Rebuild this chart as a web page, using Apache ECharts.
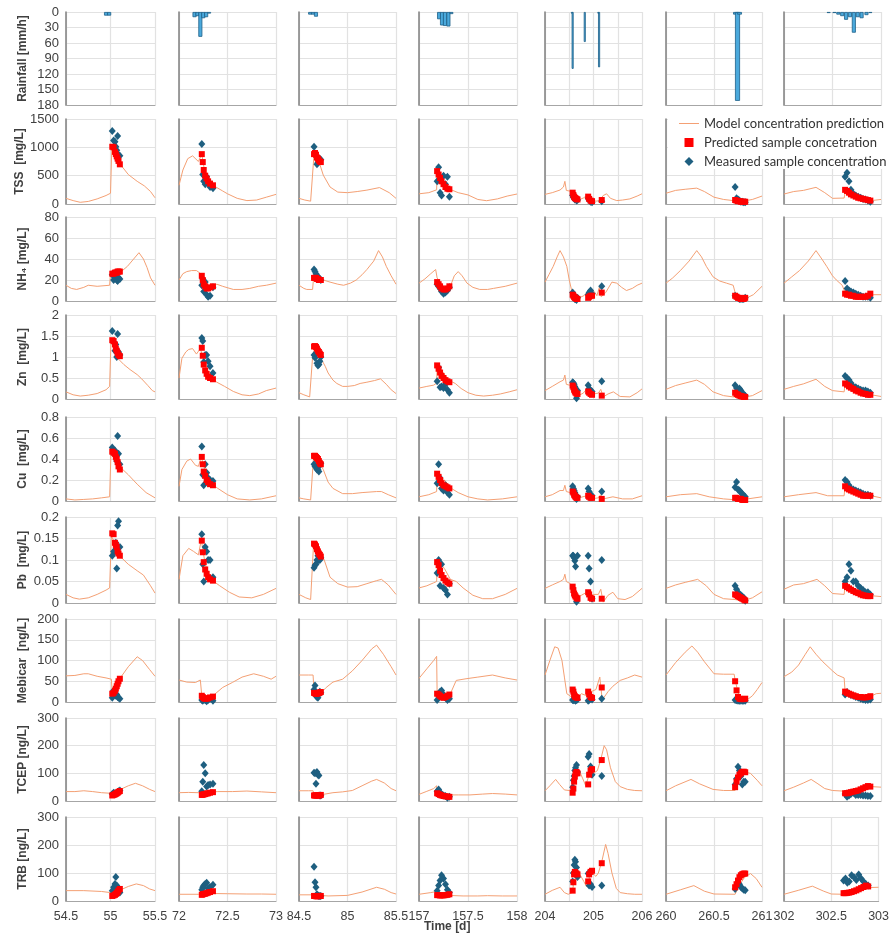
<!DOCTYPE html>
<html><head><meta charset="utf-8">
<script src="https://cdn.jsdelivr.net/npm/echarts@6/dist/echarts.min.js"></script>
<style>html,body{margin:0;padding:0;background:#fff}#c{width:892px;height:938px}</style>
</head><body><div id="c"></div>
<script>
// ---------- axes / categories ----------
const xMin = [54.5, 72, 84.5, 157, 204, 260, 302];
const xMax = [55.5, 73, 85.5, 158, 206, 261, 303];
const rowLabels = ['Rainfall [mm/h]','TSS  [mg/L]','NH\u2084 [mg/L]','Zn  [mg/L]','Cu  [mg/L]','Pb  [mg/L]','Mebicar  [ng/L]','TCEP [ng/L]','TRB [ng/L]'];
const yMax = [180, 1500, 80, 2, 0.8, 0.2, 200, 300, 300];
const yStep = [30, 500, 20, 0.5, 0.2, 0.05, 50, 100, 100];
const seriesNames = ['Model concentration prediction','Predicted sample concetration','Measured sample concentration'];

// ---------- rainfall [t, mm/h] ----------
const rain = [
  [[54.95,7],[54.985,7]],
  [[72.16,10],[72.19,8],[72.22,48],[72.25,12],[72.28,10],[72.31,3]],
  [[84.615,5],[84.645,5],[84.675,9]],
  [[157.205,14],[157.235,26],[157.265,27],[157.3,28],[157.33,4]],
  [[204.555,3],[204.57,110],[204.82,58],[205.1,3],[205.115,107]],
  [[260.725,5],[260.745,172],[260.765,5]],
  [[302.46,2],[302.52,2],[302.56,5],[302.6,8],[302.64,15],[302.68,10],[302.72,40],[302.76,10],[302.8,12],[302.85,6],[302.89,2]]
];

// ---------- sample times per column ----------
const sampleT = [
  [55.02,55.035,55.05,55.06,55.07,55.08,55.09,55.105],
  [72.235,72.245,72.255,72.27,72.285,72.3,72.32,72.35],
  [84.655,84.665,84.675,84.685,84.695,84.705,84.715,84.725],
  [157.185,157.2,157.215,157.23,157.25,157.27,157.29,157.31],
  [204.57,204.585,204.6,204.615,204.63,204.65,204.67,204.89,204.91,204.94,204.97,205.17],
  [260.72,260.735,260.75,260.765,260.78,260.795,260.81,260.825],
  [302.63,302.65,302.67,302.69,302.715,302.74,302.765,302.79,302.815,302.84,302.865,302.89]
];

// ---------- TSS ----------
const tssModel = [
  [[54.5,100],[54.58,60],[54.66,30],[54.75,45],[54.85,90],[54.95,150],[55.0,190],[55.015,1000],[55.04,980],[55.1,720],[55.2,520],[55.3,400],[55.38,320],[55.45,220],[55.5,110]],
  [[72,330],[72.04,600],[72.09,800],[72.14,850],[72.2,750],[72.235,880],[72.27,520],[72.32,360],[72.38,300],[72.45,230],[72.5,180],[72.6,100],[72.7,60],[72.8,70],[72.9,120],[73,170]],
  [[84.5,100],[84.56,70],[84.62,50],[84.655,880],[84.7,780],[84.75,510],[84.82,300],[84.9,210],[85.0,200],[85.1,220],[85.2,245],[85.33,290],[85.43,200],[85.5,100]],
  [[157,180],[157.1,200],[157.18,250],[157.185,580],[157.23,400],[157.3,270],[157.4,200],[157.5,160],[157.6,80],[157.69,58],[157.8,90],[157.9,140],[158,176]],
  [[204,170],[204.15,200],[204.31,247],[204.38,300],[204.41,400],[204.44,240],[204.55,220],[204.65,150],[204.72,80],[204.8,110],[204.86,150],[204.95,80],[205.05,50],[205.13,60],[205.2,150],[205.27,180],[205.35,100],[205.48,60],[205.6,70],[205.75,90],[205.9,140],[206,180]],
  [[260,190],[260.1,240],[260.2,260],[260.32,280],[260.4,220],[260.5,120],[260.6,80],[260.7,60],[260.8,50],[260.9,80],[261,140]],
  [[302,176],[302.1,220],[302.2,240],[302.33,294],[302.42,200],[302.5,100],[302.62,105],[302.635,250],[302.7,170],[302.8,100],[302.9,60],[303,80]]
];
const tssPred = [
  [1010,1000,920,880,840,800,760,700],
  [880,740,600,500,450,400,360,330],
  [880,900,870,820,800,770,750,740],
  [580,520,460,400,350,300,270,260],
  [200,160,130,110,100,90,80,130,90,60,50,70],
  [70,60,50,50,40,40,40,40],
  [250,230,200,170,150,130,110,100,90,80,70,60]
];
const tssMeas = [
  [1290,1120,1100,1010,950,1200,870,850],
  [1060,520,400,350,480,400,300,280],
  [1010,890,850,700,730,760,800,780],
  [400,650,200,150,500,350,480,130],
  [150,120,100,80,120,60,70,100,70,40,30,50],
  [300,100,80,60,40,40,30,30],
  [480,550,400,250,180,150,130,110,90,80,60,40]
];

// ---------- NH4 ----------
const nh4Model = [
  [[54.5,15],[54.56,12],[54.62,11],[54.7,13],[54.75,15],[54.85,14],[54.99,15],[55.0,26],[55.06,27],[55.12,28],[55.19,33],[55.26,40],[55.32,46],[55.37,40],[55.41,32],[55.45,22],[55.5,15]],
  [[72,20],[72.04,26],[72.08,28],[72.13,29],[72.18,29],[72.21,27],[72.235,25],[72.26,18],[72.29,12],[72.33,13],[72.39,16],[72.45,14],[72.56,11],[72.65,11],[72.73,12],[72.82,14],[72.9,15],[73,17]],
  [[84.5,15],[84.55,12],[84.58,11],[84.64,11],[84.65,22],[84.7,21],[84.75,20],[84.82,18],[84.9,16],[84.96,15],[85.03,17],[85.09,20],[85.15,25],[85.2,30],[85.27,38],[85.32,48],[85.36,42],[85.4,33],[85.45,24],[85.5,16]],
  [[157,17],[157.06,21],[157.12,26],[157.17,30],[157.185,22],[157.22,17],[157.26,12],[157.29,11],[157.32,14],[157.36,24],[157.4,28],[157.44,24],[157.49,17],[157.55,13],[157.62,11],[157.7,11],[157.76,12],[157.88,14],[158,17]],
  [[204,18],[204.08,25],[204.17,33],[204.25,42],[204.31,48],[204.38,42],[204.45,33],[204.5,20],[204.55,10],[204.6,5],[204.7,3],[204.8,5],[204.86,8],[204.96,12],[205.03,8],[205.07,5],[205.12,13],[205.16,4],[205.25,8],[205.38,18],[205.48,17],[205.58,13],[205.68,10],[205.8,12],[205.9,15],[206,17]],
  [[260,17],[260.07,22],[260.15,29],[260.24,38],[260.32,48],[260.37,42],[260.42,33],[260.49,23],[260.56,19],[260.63,17],[260.7,15],[260.72,8],[260.76,3],[260.82,2],[260.91,6],[261,14]],
  [[302,17],[302.08,23],[302.16,29],[302.25,38],[302.33,48],[302.39,40],[302.44,33],[302.5,24],[302.54,20],[302.6,15],[302.63,8],[302.7,6],[302.78,4],[302.86,4],[302.92,6],[303,6]]
];
const nh4Pred = [
  [26,26,27,27,27,28,28,28],
  [24,20,16,14,12,12,13,14],
  [22,22,22,21,21,20,20,20],
  [18,16,14,12,11,11,12,14],
  [6,5,4,3,3,2,2,3,4,5,5,8],
  [5,4,3,3,2,2,2,3],
  [7,6,6,5,5,4,4,4,4,4,5,7]
];
const nh4Meas = [
  [25,20,22,24,20,19,22,21],
  [15,21,9,18,6,4,5,13],
  [30,28,26,24,23,22,21,20],
  [16,14,12,9,7,8,10,13],
  [8,6,4,2,2,1,3,6,8,10,7,14],
  [5,4,3,2,2,2,2,3],
  [19,12,10,9,8,7,6,5,4,4,4,3]
];

// ---------- Zn ----------
const znModel = [
  [[54.5,0.17],[54.58,0.1],[54.66,0.07],[54.75,0.09],[54.85,0.13],[54.95,0.22],[54.99,0.3],[55.005,1.35],[55.04,1.2],[55.09,0.95],[55.15,0.82],[55.22,0.7],[55.3,0.58],[55.35,0.48],[55.42,0.32],[55.47,0.2],[55.5,0.17]],
  [[72,0.5],[72.03,0.97],[72.07,1.12],[72.1,1.18],[72.14,1.2],[72.18,1.07],[72.22,1.2],[72.26,0.9],[72.3,0.55],[72.39,0.4],[72.47,0.3],[72.56,0.18],[72.65,0.1],[72.73,0.08],[72.82,0.12],[72.9,0.2],[73,0.26]],
  [[84.5,0.15],[84.55,0.1],[84.61,0.05],[84.64,1.0],[84.66,1.2],[84.7,1.1],[84.73,0.95],[84.77,0.78],[84.8,0.62],[84.85,0.45],[84.89,0.37],[84.95,0.3],[85.0,0.3],[85.07,0.32],[85.13,0.37],[85.2,0.4],[85.28,0.44],[85.34,0.48],[85.4,0.35],[85.45,0.22],[85.5,0.13]],
  [[157,0.26],[157.08,0.3],[157.15,0.33],[157.18,0.38],[157.185,0.8],[157.25,0.62],[157.3,0.45],[157.37,0.37],[157.43,0.25],[157.5,0.15],[157.58,0.09],[157.66,0.07],[157.75,0.09],[157.83,0.12],[157.92,0.17],[158,0.22]],
  [[204,0.2],[204.15,0.3],[204.31,0.41],[204.38,0.45],[204.41,0.57],[204.44,0.35],[204.5,0.33],[204.57,0.3],[204.63,0.18],[204.72,0.1],[204.79,0.14],[204.86,0.24],[204.93,0.1],[205.0,0.12],[205.1,0.14],[205.15,0.23],[205.2,0.05],[205.3,0.12],[205.41,0.17],[205.55,0.06],[205.75,0.05],[205.9,0.15],[206,0.24]],
  [[260,0.23],[260.1,0.32],[260.2,0.38],[260.32,0.45],[260.4,0.35],[260.49,0.17],[260.6,0.08],[260.7,0.05],[260.8,0.04],[260.9,0.08],[261,0.2]],
  [[302,0.23],[302.1,0.3],[302.2,0.36],[302.33,0.47],[302.42,0.3],[302.5,0.2],[302.62,0.17],[302.63,0.37],[302.7,0.3],[302.8,0.2],[302.9,0.1],[303,0.06]]
];
const znPred = [
  [1.4,1.38,1.3,1.2,1.15,1.1,1.05,1.02],
  [1.22,1.03,0.82,0.68,0.6,0.53,0.5,0.47],
  [1.25,1.26,1.24,1.2,1.15,1.12,1.08,1.05],
  [0.8,0.72,0.63,0.55,0.5,0.45,0.42,0.4],
  [0.32,0.28,0.22,0.18,0.15,0.13,0.12,0.18,0.15,0.12,0.1,0.08],
  [0.15,0.12,0.1,0.08,0.07,0.06,0.05,0.05],
  [0.37,0.34,0.3,0.27,0.24,0.2,0.18,0.15,0.13,0.12,0.1,0.1]
];
const znMeas = [
  [1.62,1.35,1.15,1.3,1.0,1.55,1.12,1.05],
  [1.45,1.38,0.88,1.05,1.05,0.9,0.78,0.62],
  [1.05,0.98,1.08,0.85,0.8,0.82,0.9,1.0],
  [0.42,0.75,0.28,0.3,0.26,0.35,0.22,0.15],
  [0.4,0.38,0.35,0.3,0.25,0.02,0.2,0.33,0.25,0.2,0.18,0.42],
  [0.33,0.26,0.22,0.25,0.2,0.15,0.1,0.08],
  [0.55,0.5,0.45,0.38,0.3,0.28,0.25,0.22,0.2,0.2,0.18,0.15]
];

// ---------- Cu ----------
const cuModel = [
  [[54.5,0.02],[54.6,0.01],[54.7,0.015],[54.8,0.02],[54.9,0.03],[54.99,0.04],[55.005,0.45],[55.05,0.42],[55.1,0.33],[55.2,0.25],[55.3,0.16],[55.4,0.08],[55.5,0.03]],
  [[72,0.14],[72.03,0.3],[72.08,0.38],[72.12,0.4],[72.17,0.34],[72.2,0.33],[72.23,0.42],[72.27,0.28],[72.33,0.17],[72.4,0.12],[72.5,0.06],[72.6,0.02],[72.73,0.01],[72.85,0.02],[73,0.05]],
  [[84.5,0.03],[84.55,0.02],[84.62,0.01],[84.65,0.42],[84.7,0.38],[84.75,0.3],[84.8,0.18],[84.85,0.12],[84.95,0.07],[85.05,0.07],[85.15,0.08],[85.3,0.09],[85.35,0.09],[85.42,0.06],[85.5,0.03]],
  [[157,0.04],[157.1,0.06],[157.18,0.09],[157.185,0.26],[157.26,0.2],[157.33,0.12],[157.4,0.08],[157.5,0.04],[157.6,0.02],[157.7,0.01],[157.85,0.02],[158,0.04]],
  [[204,0.04],[204.15,0.06],[204.31,0.1],[204.38,0.1],[204.41,0.15],[204.44,0.09],[204.52,0.08],[204.6,0.05],[204.7,0.03],[204.86,0.05],[204.95,0.02],[205.1,0.03],[205.15,0.06],[205.2,0.02],[205.4,0.04],[205.6,0.02],[205.8,0.02],[206,0.05]],
  [[260,0.04],[260.15,0.06],[260.32,0.07],[260.45,0.04],[260.6,0.02],[260.75,0.01],[260.85,0.02],[261,0.04]],
  [[302,0.04],[302.15,0.06],[302.33,0.08],[302.45,0.05],[302.62,0.05],[302.63,0.15],[302.7,0.12],[302.8,0.08],[302.9,0.05],[303,0.03]]
];
const cuPred = [
  [0.47,0.46,0.45,0.42,0.4,0.37,0.33,0.3],
  [0.42,0.35,0.28,0.24,0.2,0.18,0.16,0.15],
  [0.43,0.43,0.42,0.41,0.4,0.38,0.36,0.35],
  [0.26,0.23,0.2,0.17,0.15,0.14,0.13,0.12],
  [0.09,0.08,0.06,0.05,0.04,0.03,0.03,0.05,0.04,0.03,0.03,0.02],
  [0.03,0.03,0.02,0.02,0.02,0.01,0.01,0.01],
  [0.14,0.12,0.11,0.1,0.09,0.08,0.07,0.06,0.05,0.05,0.05,0.05]
];
const cuMeas = [
  [0.51,0.45,0.48,0.44,0.38,0.62,0.45,0.35],
  [0.52,0.25,0.15,0.35,0.27,0.22,0.2,0.19],
  [0.35,0.33,0.32,0.3,0.3,0.28,0.34,0.36],
  [0.17,0.35,0.22,0.12,0.1,0.15,0.08,0.06],
  [0.14,0.12,0.1,0.08,0.05,0.02,0.04,0.12,0.09,0.06,0.05,0.09],
  [0.13,0.18,0.11,0.1,0.08,0.07,0.05,0.04],
  [0.2,0.18,0.15,0.12,0.11,0.1,0.09,0.08,0.07,0.06,0.06,0.05]
];

// ---------- Pb ----------
const pbModel = [
  [[54.5,0.02],[54.58,0.012],[54.65,0.009],[54.75,0.012],[54.85,0.02],[54.95,0.03],[54.99,0.035],[55.01,0.155],[55.05,0.14],[55.1,0.11],[55.2,0.09],[55.3,0.075],[55.37,0.065],[55.45,0.04],[55.5,0.023]],
  [[72,0.055],[72.04,0.11],[72.1,0.127],[72.15,0.12],[72.2,0.112],[72.23,0.147],[72.27,0.09],[72.33,0.055],[72.42,0.04],[72.52,0.025],[72.62,0.014],[72.75,0.012],[72.87,0.02],[73,0.034]],
  [[84.5,0.02],[84.57,0.012],[84.62,0.008],[84.65,0.137],[84.7,0.13],[84.76,0.1],[84.82,0.06],[84.9,0.045],[85.0,0.037],[85.1,0.038],[85.2,0.045],[85.3,0.052],[85.35,0.055],[85.42,0.042],[85.5,0.02]],
  [[157,0.035],[157.08,0.04],[157.15,0.047],[157.18,0.05],[157.19,0.1],[157.26,0.08],[157.32,0.055],[157.38,0.05],[157.45,0.035],[157.55,0.018],[157.65,0.01],[157.75,0.01],[157.88,0.02],[158,0.034]],
  [[204,0.034],[204.15,0.042],[204.31,0.05],[204.38,0.055],[204.41,0.067],[204.44,0.05],[204.52,0.045],[204.58,0.035],[204.65,0.015],[204.75,0.018],[204.86,0.025],[204.92,0.015],[205.0,0.02],[205.1,0.02],[205.15,0.032],[205.2,0.002],[205.3,0.018],[205.4,0.025],[205.5,0.01],[205.65,0.008],[205.8,0.015],[206,0.034]],
  [[260,0.034],[260.1,0.042],[260.2,0.048],[260.33,0.055],[260.42,0.04],[260.5,0.02],[260.6,0.01],[260.72,0.008],[260.8,0.005],[260.9,0.012],[261,0.026]],
  [[302,0.032],[302.1,0.042],[302.2,0.045],[302.34,0.055],[302.42,0.04],[302.5,0.022],[302.62,0.02],[302.63,0.04],[302.7,0.033],[302.8,0.022],[302.9,0.017],[303,0.015]]
];
const pbPred = [
  [0.162,0.16,0.14,0.135,0.13,0.12,0.115,0.11],
  [0.145,0.118,0.095,0.078,0.068,0.06,0.055,0.052],
  [0.138,0.136,0.132,0.125,0.12,0.115,0.112,0.108],
  [0.095,0.088,0.075,0.065,0.058,0.052,0.048,0.045],
  [0.038,0.03,0.022,0.018,0.015,0.012,0.01,0.025,0.02,0.012,0.01,0.01],
  [0.02,0.018,0.016,0.014,0.012,0.01,0.008,0.006],
  [0.04,0.037,0.034,0.031,0.028,0.025,0.023,0.02,0.018,0.017,0.016,0.016]
];
const pbMeas = [
  [0.11,0.12,0.12,0.14,0.08,0.18,0.19,0.13],
  [0.16,0.09,0.05,0.13,0.12,0.1,0.1,0.06],
  [0.082,0.088,0.09,0.1,0.11,0.1,0.1,0.105],
  [0.07,0.1,0.04,0.09,0.035,0.03,0.02,0.045],
  [0.11,0.11,0.105,0.098,0.085,0.003,0.11,0.11,0.08,0.05,0.01,0.1],
  [0.04,0.032,0.025,0.02,0.018,0.015,0.012,0.005],
  [0.05,0.06,0.09,0.075,0.05,0.05,0.04,0.035,0.03,0.025,0.025,0.02]
];

// ---------- Mebicar ----------
const mebModel = [
  [[54.5,63],[54.6,64],[54.7,68],[54.75,68],[54.85,62],[54.95,58],[55.01,55],[55.02,20],[55.03,22],[55.1,55],[55.2,85],[55.3,109],[55.36,100],[55.44,78],[55.5,62]],
  [[72,53],[72.08,48],[72.17,47],[72.22,53],[72.235,15],[72.3,8],[72.35,15],[72.45,35],[72.55,47],[72.65,60],[72.77,68],[72.87,62],[72.95,55],[73,62]],
  [[84.5,65],[84.6,65],[84.645,65],[84.655,25],[84.72,20],[84.78,35],[84.85,48],[84.95,55],[85.05,75],[85.15,100],[85.25,128],[85.3,137],[85.37,115],[85.45,85],[85.5,65]],
  [[157,57],[157.08,80],[157.15,100],[157.18,110],[157.185,20],[157.26,10],[157.32,20],[157.38,52],[157.48,56],[157.6,60],[157.75,65],[157.88,58],[158,53]],
  [[204,65],[204.1,100],[204.2,133],[204.27,130],[204.35,100],[204.4,60],[204.45,20],[204.55,12],[204.65,8],[204.75,20],[204.86,15],[204.95,25],[205.05,30],[205.13,60],[205.18,5],[205.3,25],[205.4,38],[205.55,52],[205.7,58],[205.85,65],[206,60]],
  [[260,65],[260.1,95],[260.2,120],[260.27,135],[260.33,120],[260.4,97],[260.5,68],[260.6,67],[260.71,67],[260.72,52],[260.76,15],[260.8,8],[260.85,6],[260.9,15],[260.95,30],[261,47]],
  [[302,61],[302.08,72],[302.15,89],[302.22,115],[302.27,133],[302.33,115],[302.4,97],[302.5,75],[302.55,65],[302.62,58],[302.63,25],[302.72,18],[302.8,12],[302.88,12],[302.95,20],[303,21]]
];
const mebPred = [
  [20,22,27,32,38,44,50,56],
  [15,12,9,8,8,9,11,13],
  [22,21,20,20,21,22,23,24],
  [20,18,15,12,10,12,15,18],
  [30,25,18,14,12,11,10,25,18,12,10,35],
  [50,28,12,8,7,7,7,8],
  [25,22,20,18,16,14,12,12,11,11,12,14]
];
const mebMeas = [
  [10,28,20,15,18,12,10,8],
  [5,3,6,4,2,5,8,3],
  [30,40,15,12,10,20,25,22],
  [5,20,25,28,18,10,5,8],
  [5,4,8,5,3,5,6,3,5,8,6,8],
  [5,4,3,3,3,3,3,3],
  [18,24,20,17,15,12,10,8,6,5,5,6]
];

// ---------- TCEP ----------
const tcepModel = [
  [[54.5,34],[54.6,34],[54.7,37],[54.8,34],[54.9,30],[55.0,28],[55.03,24],[55.1,40],[55.2,55],[55.28,64],[55.36,55],[55.44,42],[55.5,34]],
  [[72,30],[72.1,31],[72.2,30],[72.3,32],[72.4,34],[72.55,34],[72.7,36],[72.85,33],[73,30]],
  [[84.5,37],[84.6,37],[84.645,37],[84.655,22],[84.75,24],[84.85,30],[84.95,33],[85.05,38],[85.15,55],[85.25,72],[85.3,78],[85.38,65],[85.45,45],[85.5,37]],
  [[157,24],[157.08,35],[157.15,45],[157.18,55],[157.185,35],[157.26,28],[157.32,22],[157.4,22],[157.52,22],[157.65,25],[157.75,27],[157.88,25],[158,22]],
  [[204,37],[204.1,55],[204.22,78],[204.3,60],[204.4,40],[204.5,38],[204.56,30],[204.6,60],[204.65,105],[204.7,112],[204.78,80],[204.84,55],[204.9,90],[204.95,120],[205.0,100],[205.08,110],[205.15,150],[205.22,200],[205.27,185],[205.35,120],[205.45,70],[205.55,52],[205.7,42],[205.85,38],[206,37]],
  [[260,37],[260.1,55],[260.26,78],[260.35,62],[260.49,42],[260.6,38],[260.72,38],[260.74,60],[260.78,95],[260.82,105],[260.88,100],[260.95,75],[261,55]],
  [[302,37],[302.1,50],[302.2,65],[302.28,78],[302.35,62],[302.42,45],[302.5,38],[302.6,36],[302.7,38],[302.8,42],[302.9,52],[303,50]]
];
const tcepPred = [
  [20,22,24,26,28,30,33,36],
  [22,23,24,25,27,28,30,32],
  [20,20,20,20,20,20,21,22],
  [28,25,22,20,18,17,16,15],
  [30,45,70,88,100,105,100,60,95,110,115,148],
  [50,70,85,95,100,105,106,104],
  [28,28,30,32,34,36,38,42,46,50,54,52]
];
const tcepMeas = [
  [25,30,28,26,30,32,35,38],
  [35,70,130,100,52,58,60,62],
  [102,100,62,105,95,92,20,20],
  [35,42,30,25,20,18,12,15],
  [50,75,90,110,120,130,105,160,170,125,95,90],
  [60,80,124,110,90,60,70,70],
  [25,15,20,25,30,22,22,22,20,20,18,18]
];

// ---------- TRB ----------
const trbModel = [
  [[54.5,37],[54.7,37],[54.9,34],[55.0,30],[55.03,25],[55.1,38],[55.2,52],[55.29,61],[55.37,55],[55.44,43],[55.5,37]],
  [[72,24],[72.2,24],[72.3,27],[72.5,26],[72.7,25],[72.85,25],[73,24]],
  [[84.5,22],[84.64,22],[84.66,18],[84.8,18],[85.0,20],[85.15,32],[85.3,49],[85.38,42],[85.45,30],[85.5,25]],
  [[157,24],[157.12,30],[157.18,34],[157.19,22],[157.3,20],[157.45,18],[157.6,18],[157.7,19],[157.85,18],[158,18]],
  [[204,24],[204.15,38],[204.31,49],[204.4,30],[204.48,24],[204.56,30],[204.6,70],[204.66,100],[204.72,95],[204.8,70],[204.86,50],[204.92,85],[204.98,100],[205.05,88],[205.1,100],[205.17,140],[205.25,202],[205.3,170],[205.38,100],[205.47,45],[205.55,30],[205.7,26],[205.85,24],[206,24]],
  [[260,24],[260.15,40],[260.29,55],[260.4,35],[260.5,25],[260.72,24],[260.76,55],[260.82,85],[260.88,98],[260.94,80],[261,49]],
  [[302,24],[302.15,38],[302.3,53],[302.42,35],[302.5,25],[302.63,24],[302.7,28],[302.8,38],[302.9,48],[303,49]]
];
const trbPred = [
  [18,20,22,25,28,32,38,43],
  [22,24,25,26,28,30,32,35],
  [18,18,17,17,17,18,18,18],
  [21,21,20,20,20,21,22,24],
  [37,67,95,104,100,98,95,70,95,104,108,135],
  [49,60,73,85,92,96,98,98],
  [28,28,29,30,32,35,38,42,46,50,55,52]
];
const trbMeas = [
  [37,49,61,86,55,45,40,30],
  [40,49,55,61,65,45,50,58],
  [122,67,49,24,20,18,18,18],
  [37,55,73,92,80,60,40,30],
  [70,100,129,147,140,120,86,98,55,60,50,55],
  [43,55,65,60,50,45,40,38],
  [73,80,65,70,92,85,75,95,80,70,61,55]
];

const concRows = [
  [tssModel, tssPred, tssMeas],
  [nh4Model, nh4Pred, nh4Meas],
  [znModel, znPred, znMeas],
  [cuModel, cuPred, cuMeas],
  [pbModel, pbPred, pbMeas],
  [mebModel, mebPred, mebMeas],
  [tcepModel, tcepPred, tcepMeas],
  [trbModel, trbPred, trbMeas]
];

// ---------- layout / style ----------
const colL = [66,179,299,419,545,666,784];
const colR = [155,276,396,517,642,762,881];
const rowTop = [12,119,217,315,417,517,619,718,817];
const rowBot = [105,204,301,399,501,603,702,801,901];
const barW = [4,4,4,4,2,5,4];
const LINE_C = '#f4a074', RED = '#ff0000', BLUE = '#1e5f80';
const FONT = "'Liberation Sans', Arial, sans-serif";

const grids = [], xAxes = [], yAxes = [], series = [];
for (let r = 0; r < 9; r++) {
  for (let c = 0; c < 7; c++) {
    const idx = r * 7 + c;
    grids.push({left: colL[c], top: rowTop[r], width: colR[c] - colL[c], height: rowBot[r] - rowTop[r]});
    xAxes.push({
      type: 'value', gridIndex: idx, min: xMin[c], max: xMax[c], interval: 0.5,
      axisLine: {show: true, onZero: false, lineStyle: {color: '#a6a6a6', width: 1.2}},
      axisTick: {show: false},
      axisLabel: {show: r === 8, margin: 9, fontSize: 12.5, color: '#404040',
        fontFamily: "'Liberation Sans Narrow', 'Liberation Sans', Arial, sans-serif",
        formatter: v => (c === 4 && !Number.isInteger(v)) ? '' : String(v)},
      splitLine: {show: true, lineStyle: {color: '#e2e2e2', width: 1.2}}
    });
    yAxes.push({
      type: 'value', gridIndex: idx, min: 0, max: yMax[r], interval: yStep[r], inverse: r === 0,
      axisLine: {show: true, lineStyle: {color: '#7f7f7f', width: 1.5}},
      axisTick: {show: false},
      axisLabel: {show: c === 0, margin: 7, fontSize: 13, color: '#404040', fontFamily: FONT,
        formatter: v => String(+v.toFixed(4))},
      splitLine: {show: true, lineStyle: {color: '#e2e2e2', width: 1.2}},
      name: c === 0 ? rowLabels[r] : '', nameLocation: 'middle', nameRotate: 90,
      nameGap: 37, nameTextStyle: {fontWeight: 'bold', fontSize: 12, color: '#404040', fontFamily: FONT}
    });
    if (r === 0) {
      series.push({type: 'bar', xAxisIndex: idx, yAxisIndex: idx, data: rain[c], barWidth: barW[c],
        itemStyle: {color: '#4aa9dc', borderColor: '#1d5f88', borderWidth: 0.8}, silent: true});
    } else {
      const [model, pred, meas] = concRows[r - 1];
      series.push({name: seriesNames[0], type: 'line', xAxisIndex: idx, yAxisIndex: idx, data: model[c],
        symbol: 'none', lineStyle: {width: 1, color: LINE_C}, itemStyle: {color: LINE_C}, z: 2});
      series.push({name: seriesNames[2], type: 'scatter', xAxisIndex: idx, yAxisIndex: idx,
        data: sampleT[c].map((t, i) => [t, meas[c][i]]), symbol: 'diamond', symbolSize: [7, 8],
        itemStyle: {color: BLUE, opacity: 1}, z: 3});
      series.push({name: seriesNames[1], type: 'scatter', xAxisIndex: idx, yAxisIndex: idx,
        data: sampleT[c].map((t, i) => [t, pred[c][i]]), symbol: 'rect', symbolSize: 6,
        itemStyle: {color: RED, opacity: 1}, z: 4});
    }
  }
}

const chart = echarts.init(document.getElementById('c'), null, {renderer: 'canvas'});
chart.setOption({
  animation: false,
  backgroundColor: '#fff',
  grid: grids, xAxis: xAxes, yAxis: yAxes, series: series,
  legend: {
    data: [
      {name: seriesNames[0], icon: 'path://M0,0 L24,0 L24,1.2 L0,1.2 Z'},
      {name: seriesNames[1], icon: 'path://M0,0 L8,0 L8,8 L0,8 Z'},
      {name: seriesNames[2], icon: 'path://M4,0 L8,4 L4,8 L0,4 Z'}
    ],
    orient: 'vertical', left: 674, top: 112, itemGap: 6, itemWidth: 20, itemHeight: 9,
    symbolKeepAspect: true,
    textStyle: {fontSize: 13, color: '#333', fontFamily: "Lato, 'Noto Sans', sans-serif"},
    z: 20, selectedMode: false
  },
  graphic: [
    {type: 'rect', shape: {x: 668, y: 107, width: 224, height: 62}, style: {fill: '#ffffff'}, z: 10},
    {type: 'text', left: 424, top: 921, style: {text: 'Time [d]', font: "bold 12px 'Liberation Sans', Arial, sans-serif", fill: '#404040'}, z: 20}
  ]
});
</script>
</body></html>
